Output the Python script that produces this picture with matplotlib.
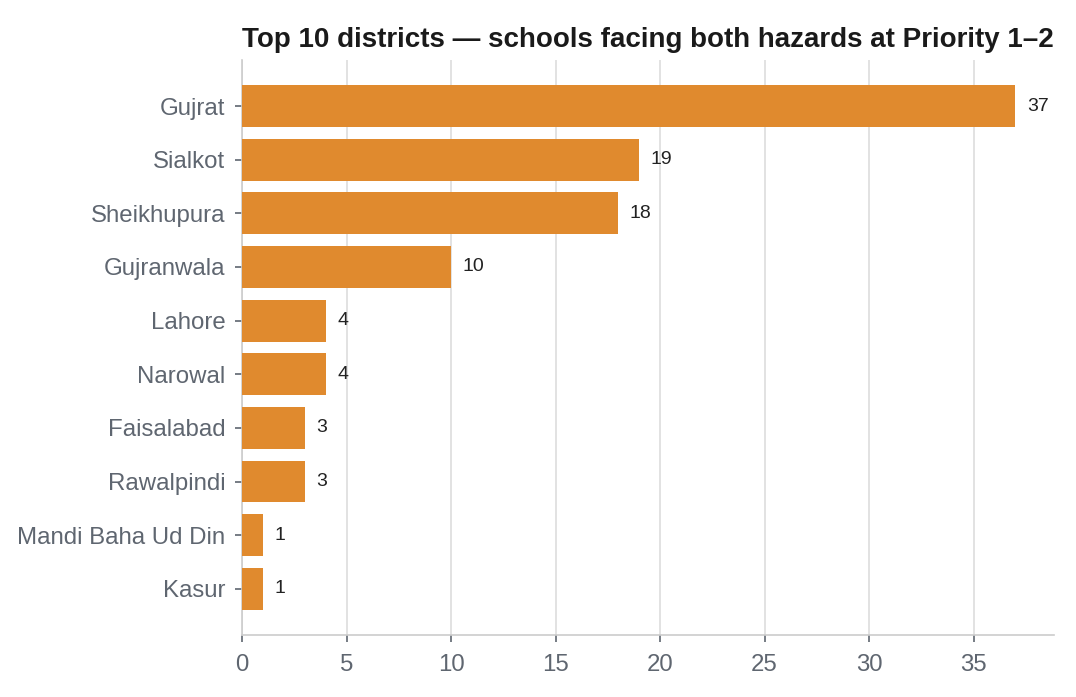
import matplotlib.pyplot as plt

# districts and counts of schools (Priority 1-2, both hazards)
districts = ["Gujrat", "Sialkot", "Sheikhupura", "Gujranwala", "Lahore",
             "Narowal", "Faisalabad", "Rawalpindi", "Mandi Baha Ud Din", "Kasur"]
schools = [37, 19, 18, 10, 4, 4, 3, 3, 1, 1]

plt.rcParams['font.family'] = ['Liberation Sans', 'DejaVu Sans']

fig = plt.figure(figsize=(10.76, 6.97), dpi=100)
ax = fig.add_axes([0.225, 0.089, 0.7546, 0.825])

ypos = list(range(len(districts)))[::-1]
ax.barh(ypos, schools, height=0.78, color="#E08A2E", zorder=3)

for y, v in zip(ypos, schools):
    ax.text(v + 0.55, y, str(v), va="center", ha="left", fontsize=14, color="#222222")

ax.set_yticks(ypos)
ax.set_yticklabels(districts)
ax.set_ylim(-0.86, 9.86)
ax.set_xlim(0, 38.85)
ax.set_xticks(range(0, 40, 5))

ax.grid(axis="x", color="#dddddd", linewidth=1.2, zorder=0)
ax.set_axisbelow(True)
for s in ["top", "right"]:
    ax.spines[s].set_visible(False)
for s in ["left", "bottom"]:
    ax.spines[s].set_color("#cccccc")
    ax.spines[s].set_linewidth(1.2)

ax.tick_params(axis="both", colors="#5f6670", labelsize=17.3, length=5, width=1.2)
ax.tick_params(axis="y", pad=7)
ax.tick_params(axis="x", pad=9)

ax.set_title("Top 10 districts \u2014 schools facing both hazards at Priority 1\u20132",
             fontsize=20, fontweight="bold", color="#1a1a1a", pad=9)

fig.savefig("out.png", dpi=100)
